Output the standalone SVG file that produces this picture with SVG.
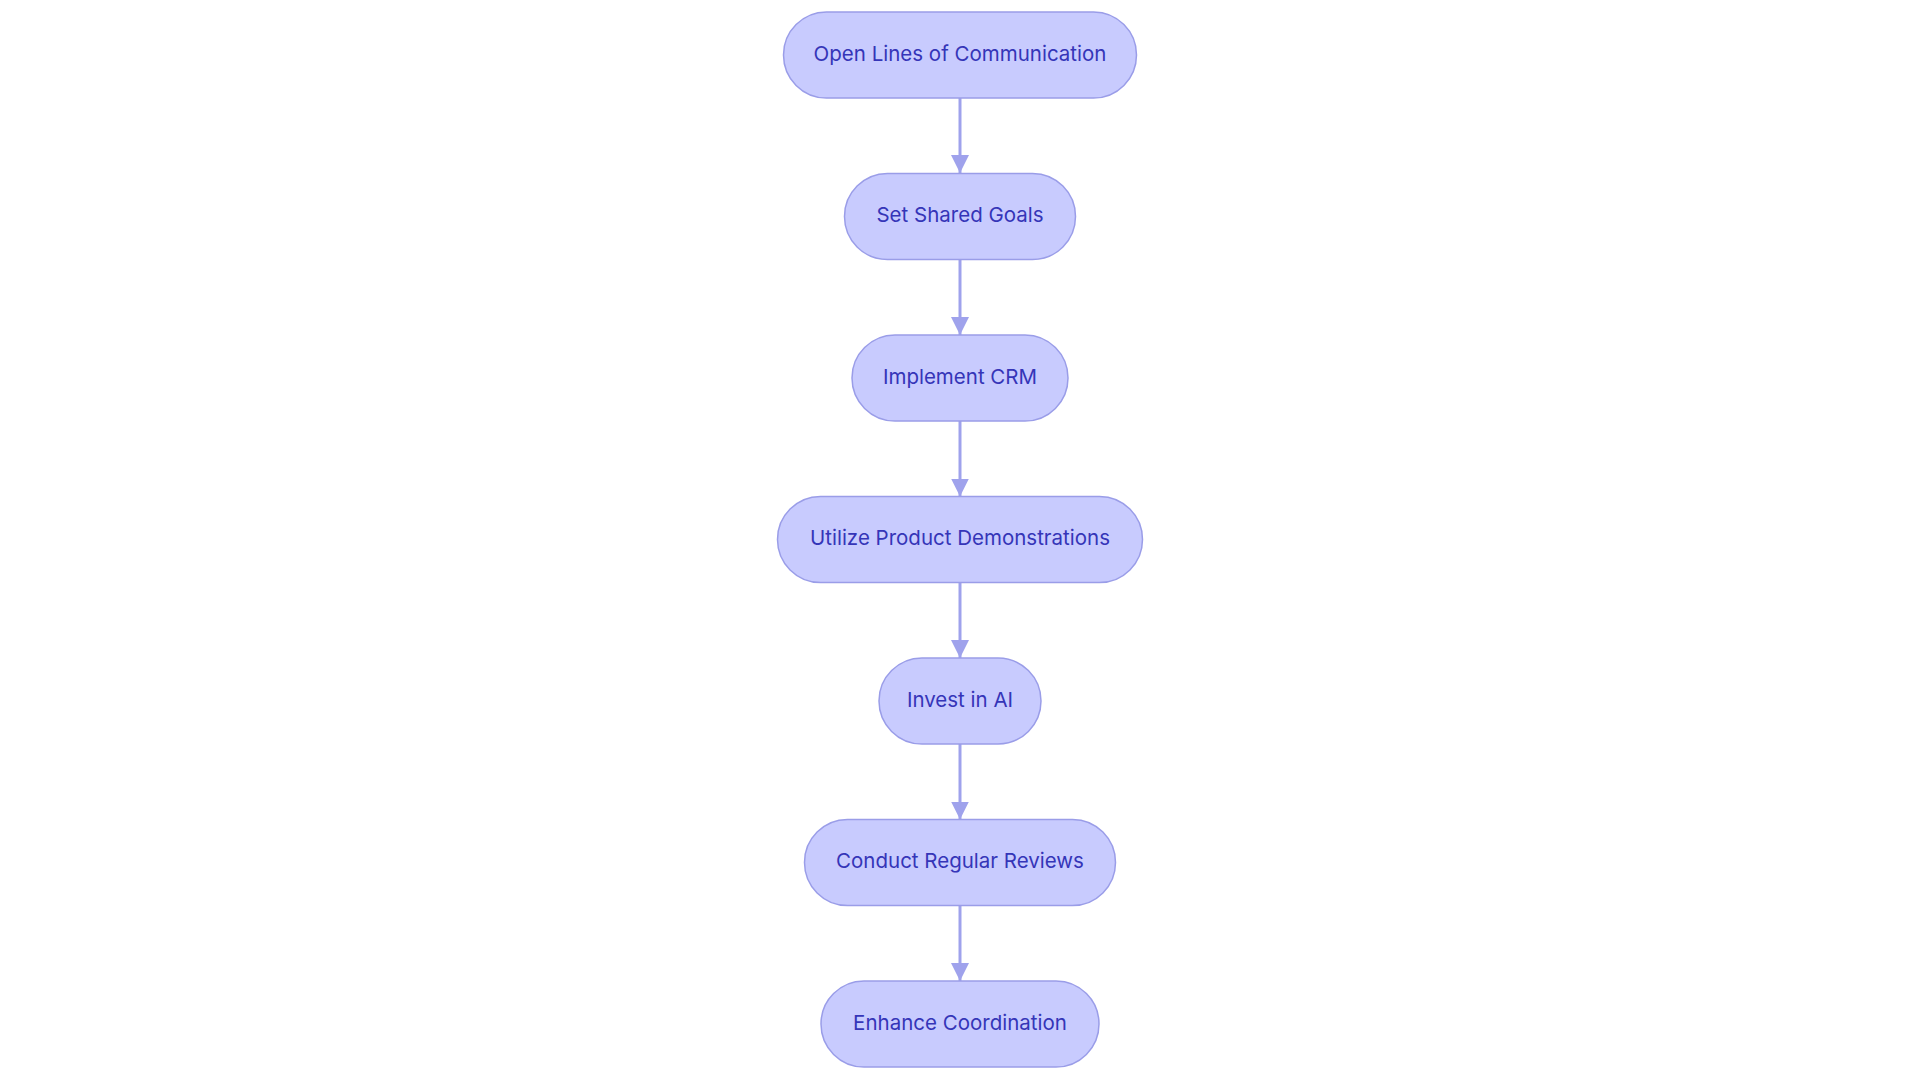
<svg xmlns="http://www.w3.org/2000/svg" width="1920" height="1083" viewBox="0 0 1920 1083">
<defs>
<style>
.node rect{fill:#C8CBFE;stroke:#9A9DE8;stroke-width:1.5}
.node text{font-family:Inter,"Liberation Sans",sans-serif;font-size:20.5px;fill:#3535B8;text-anchor:middle}
.edge{stroke:#9FA2EC;stroke-width:3;fill:none}
</style>
<marker id="arrow" viewBox="0 0 18 19" refX="18" refY="9" markerWidth="18" markerHeight="19" markerUnits="userSpaceOnUse" orient="auto">
<path d="M0,0 L18,9 L0,18 Z" fill="#9FA2EC"/>
</marker>
</defs>
<rect width="1920" height="1083" fill="#ffffff"/>
<g id="connectors">
<line class="edge" x1="960" y1="98" x2="960" y2="173" marker-end="url(#arrow)"/>
<line class="edge" x1="960" y1="259.5" x2="960" y2="335" marker-end="url(#arrow)"/>
<line class="edge" x1="960" y1="421" x2="960" y2="496.5" marker-end="url(#arrow)"/>
<line class="edge" x1="960" y1="582.5" x2="960" y2="658" marker-end="url(#arrow)"/>
<line class="edge" x1="960" y1="744" x2="960" y2="819.5" marker-end="url(#arrow)"/>
<line class="edge" x1="960" y1="905.5" x2="960" y2="981" marker-end="url(#arrow)"/>
</g>
<g id="n1" class="node"><rect x="783.5" y="12" width="353" height="86" rx="43"/><text x="960" y="60.5">Open Lines of Communication</text></g>
<g id="n2" class="node"><rect x="844.5" y="173.5" width="231" height="86" rx="43"/><text x="960" y="222">Set Shared Goals</text></g>
<g id="n3" class="node"><rect x="852" y="335" width="216" height="86" rx="43"/><text x="960" y="383.5">Implement CRM</text></g>
<g id="n4" class="node"><rect x="777.5" y="496.5" width="365" height="86" rx="43"/><text x="960" y="545">Utilize Product Demonstrations</text></g>
<g id="n5" class="node"><rect x="879" y="658" width="162" height="86" rx="43"/><text x="960" y="706.5">Invest in AI</text></g>
<g id="n6" class="node"><rect x="804.5" y="819.5" width="311" height="86" rx="43"/><text x="960" y="868">Conduct Regular Reviews</text></g>
<g id="n7" class="node"><rect x="821" y="981" width="278" height="86" rx="43"/><text x="960" y="1029.5">Enhance Coordination</text></g>
</svg>
